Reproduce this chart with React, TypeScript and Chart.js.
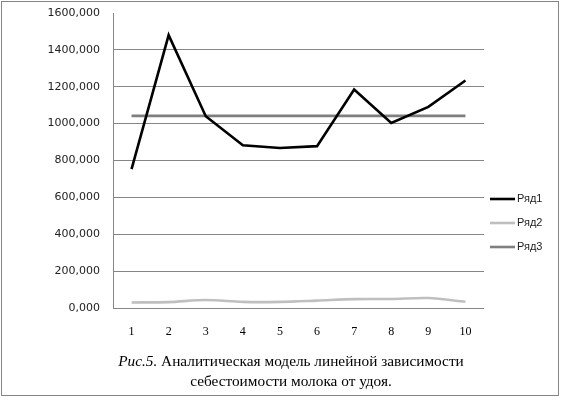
import React, { useEffect, useRef } from "react";
import { Chart, registerables } from "chart.js";

Chart.register(...registerables);

const categories = ["1", "2", "3", "4", "5", "6", "7", "8", "9", "10"];
const series1 = [753, 1480, 1040, 883, 868, 878, 1185, 1004, 1091, 1234];
const series2 = [30, 32, 43, 33, 33, 40, 48, 49, 54, 34];
const series3 = [1042, 1042, 1042, 1042, 1042, 1042, 1042, 1042, 1042, 1042];
const seriesNames = ["Ряд1", "Ряд2", "Ряд3"];
const yTicks = { min: 0, max: 1600, step: 200 };

const legendPlugin = {
  id: "customLegend",
  afterDraw(chart: any) {
    const ctx = chart.ctx;
    ctx.save();
    chart.data.datasets.forEach((ds: any, i: number) => {
      const y = 199 + i * 24;
      ctx.strokeStyle = ds.borderColor;
      ctx.lineWidth = ds.borderWidth;
      ctx.beginPath();
      ctx.moveTo(490, y);
      ctx.lineTo(515, y);
      ctx.stroke();
      ctx.fillStyle = "#222";
      ctx.font = "11px 'Liberation Sans'";
      ctx.textBaseline = "middle";
      ctx.textAlign = "left";
      ctx.fillText(ds.label, 517, y);
    });
    ctx.restore();
  },
};

function App() {
  const ref = useRef<HTMLCanvasElement | null>(null);
  useEffect(() => {
    if (!ref.current) return;
    const chart = new Chart(ref.current, {
      type: "line",
      data: {
        labels: categories,
        datasets: [
          { label: seriesNames[0], data: series1, borderColor: "#000000", borderWidth: 2.6, pointRadius: 0, tension: 0 },
          { label: seriesNames[1], data: series2, borderColor: "#bfbfbf", borderWidth: 2.6, pointRadius: 0, tension: 0.3 },
          { label: seriesNames[2], data: series3, borderColor: "#7f7f7f", borderWidth: 2.6, pointRadius: 0, tension: 0 },
        ],
      },
      options: {
        animation: false,
        responsive: false,
        layout: { padding: { left: 0, right: 77, top: 13, bottom: 0 } },
        plugins: { legend: { display: false }, tooltip: { enabled: false } },
        scales: {
          x: {
            offset: true,
            grid: { display: false },
            border: { display: false },
            ticks: { font: { family: "'Liberation Serif'", size: 12 }, color: "#000", padding: 9, maxRotation: 0 },
            afterFit: (s: any) => { s.height = 90; },
          },
          y: {
            min: yTicks.min,
            max: yTicks.max,
            grid: {
              color: (c: any) => (c.tick && c.tick.value === yTicks.max ? "rgba(0,0,0,0)" : "#868686"),
              drawTicks: false,
              lineWidth: 1,
            },
            border: { display: true, color: "#868686" },
            ticks: {
              stepSize: yTicks.step,
              padding: 13,
              color: "#222",
              font: { family: "'DejaVu Sans'", size: 11 },
              callback: (v: any) => Number(v).toFixed(3).replace(".", ","),
            },
            afterFit: (s: any) => { s.width = 113; s.paddingTop = 0; s.paddingBottom = 0; },
          },
        },
      },
      plugins: [legendPlugin],
    });
    return () => chart.destroy();
  }, []);

  return (
    <div style={{ position: "fixed", left: 0, top: 0, width: 561, height: 398, background: "#fff" }}>
      <canvas ref={ref} width={561} height={398} style={{ position: "absolute", left: 0, top: 0 }} />
      <div style={{ position: "absolute", left: 1, top: 1, width: 556, height: 393, border: "1px solid #858585" }} />
      <div
        style={{
          position: "absolute",
          left: 0,
          width: 582,
          top: 351,
          textAlign: "center",
          fontFamily: "'Liberation Serif'",
          fontSize: 15.3,
          lineHeight: "20px",
          color: "#000",
        }}
      >
        <i>Рис.5.</i> Аналитическая модель линейной зависимости
        <br />
        себестоимости молока от удоя.
      </div>
    </div>
  );
}

export default App;
